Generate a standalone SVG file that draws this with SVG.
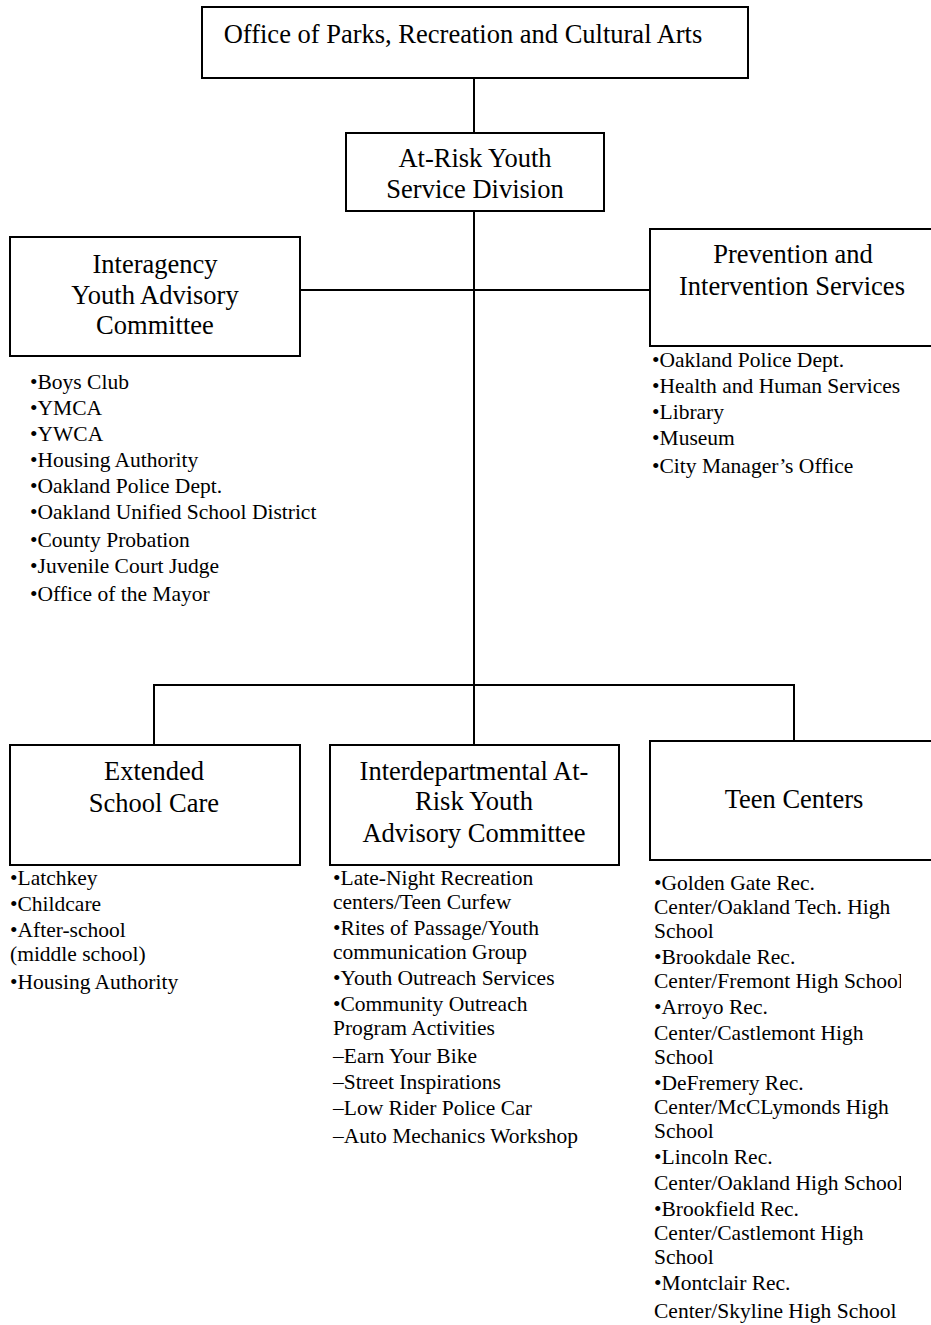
<svg xmlns="http://www.w3.org/2000/svg" width="931" height="1325" viewBox="0 0 931 1325">
<style>
.box{fill:#fff;stroke:#000;stroke-width:2}
.ln{stroke:#000;stroke-width:2;fill:none}
.t{font-family:"Liberation Serif","Times New Roman",serif;font-size:26.5px;fill:#000;text-anchor:middle}
.l{font-family:"Liberation Serif","Times New Roman",serif;font-size:21.5px;fill:#000}
</style>
<defs><clipPath id="cr"><rect x="0" y="0" width="901" height="1325"/></clipPath></defs>
<rect width="931" height="1325" fill="#fff"/>
<g id="connectors">
<line class="ln" x1="474" y1="78" x2="474" y2="133"/>
<line class="ln" x1="474" y1="211" x2="474" y2="745"/>
<line class="ln" x1="300" y1="290" x2="650" y2="290"/>
<polyline class="ln" points="154,745 154,685 794,685 794,741"/>
</g>
<g id="office">
<rect class="box" x="202" y="7" width="546" height="71"/>
<text class="t" x="463" y="43">Office of Parks, Recreation and Cultural Arts</text>
</g>
<g id="atrisk">
<rect class="box" x="346" y="133" width="258" height="78"/>
<text class="t" x="475" y="167">At-Risk Youth</text>
<text class="t" x="475" y="198">Service Division</text>
</g>
<g id="interagency">
<rect class="box" x="10" y="237" width="290" height="119"/>
<text class="t" x="155" y="273">Interagency</text>
<text class="t" x="155" y="304">Youth Advisory</text>
<text class="t" x="155" y="334">Committee</text>
<text class="l" x="30" y="389">•Boys Club</text>
<text class="l" x="30" y="415">•YMCA</text>
<text class="l" x="30" y="441">•YWCA</text>
<text class="l" x="30" y="467">•Housing Authority</text>
<text class="l" x="30" y="493">•Oakland Police Dept.</text>
<text class="l" x="30" y="519">•Oakland Unified School District</text>
<text class="l" x="30" y="547">•County Probation</text>
<text class="l" x="30" y="573">•Juvenile Court Judge</text>
<text class="l" x="30" y="601">•Office of the Mayor</text>
</g>
<g id="prevention">
<rect class="box" x="650" y="229" width="290" height="117"/>
<text class="t" x="793" y="263">Prevention and</text>
<text class="t" x="792" y="295">Intervention Services</text>
<text class="l" x="652" y="367">•Oakland Police Dept.</text>
<text class="l" x="652" y="393">•Health and Human Services</text>
<text class="l" x="652" y="419">•Library</text>
<text class="l" x="652" y="445">•Museum</text>
<text class="l" x="652" y="473">•City Manager’s Office</text>
</g>
<g id="extended">
<rect class="box" x="10" y="745" width="290" height="120"/>
<text class="t" x="154" y="780">Extended</text>
<text class="t" x="154" y="812">School Care</text>
<text class="l" x="10" y="885">•Latchkey</text>
<text class="l" x="10" y="911">•Childcare</text>
<text class="l" x="10" y="937">•After-school</text>
<text class="l" x="10" y="961">(middle school)</text>
<text class="l" x="10" y="989">•Housing Authority</text>
</g>
<g id="interdepartmental">
<rect class="box" x="330" y="745" width="289" height="120"/>
<text class="t" x="474" y="780">Interdepartmental At-</text>
<text class="t" x="474" y="810">Risk Youth</text>
<text class="t" x="474" y="842">Advisory Committee</text>
<text class="l" x="333" y="885">•Late-Night Recreation</text>
<text class="l" x="333" y="909">centers/Teen Curfew</text>
<text class="l" x="333" y="935">•Rites of Passage/Youth</text>
<text class="l" x="333" y="959">communication Group</text>
<text class="l" x="333" y="985">•Youth Outreach Services</text>
<text class="l" x="333" y="1011">•Community Outreach</text>
<text class="l" x="333" y="1035">Program Activities</text>
<text class="l" x="333" y="1063">–Earn Your Bike</text>
<text class="l" x="333" y="1089">–Street Inspirations</text>
<text class="l" x="333" y="1115">–Low Rider Police Car</text>
<text class="l" x="333" y="1143">–Auto Mechanics Workshop</text>
</g>
<g id="teen">
<rect class="box" x="650" y="741" width="290" height="119"/>
<text class="t" x="794" y="808">Teen Centers</text>
<g clip-path="url(#cr)">
<text class="l" x="654" y="890">•Golden Gate Rec.</text>
<text class="l" x="654" y="914">Center/Oakland Tech. High</text>
<text class="l" x="654" y="938">School</text>
<text class="l" x="654" y="964">•Brookdale Rec.</text>
<text class="l" x="654" y="988">Center/Fremont High School</text>
<text class="l" x="654" y="1014">•Arroyo Rec.</text>
<text class="l" x="654" y="1040">Center/Castlemont High</text>
<text class="l" x="654" y="1064">School</text>
<text class="l" x="654" y="1090">•DeFremery Rec.</text>
<text class="l" x="654" y="1114">Center/McCLymonds High</text>
<text class="l" x="654" y="1138">School</text>
<text class="l" x="654" y="1164">•Lincoln Rec.</text>
<text class="l" x="654" y="1190">Center/Oakland High School</text>
<text class="l" x="654" y="1216">•Brookfield Rec.</text>
<text class="l" x="654" y="1240">Center/Castlemont High</text>
<text class="l" x="654" y="1264">School</text>
<text class="l" x="654" y="1290">•Montclair Rec.</text>
<text class="l" x="654" y="1318">Center/Skyline High School</text>
</g>
</g>
</svg>
